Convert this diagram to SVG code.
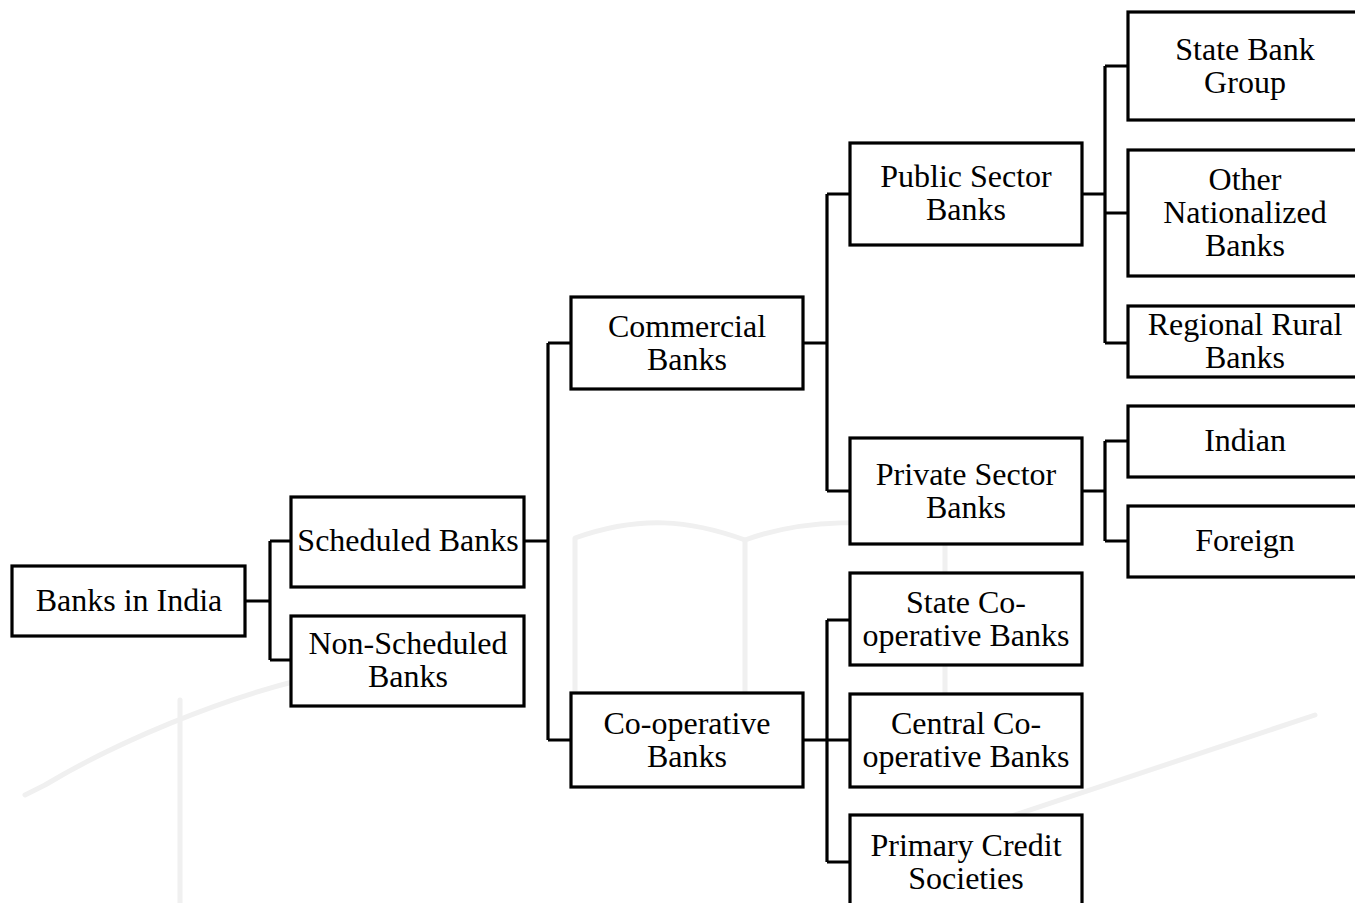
<svg xmlns="http://www.w3.org/2000/svg" width="1355" height="903" viewBox="0 0 1355 903">
<style>
.box{fill:#fff;stroke:#000;stroke-width:3.2}
.c{fill:none;stroke:#000;stroke-width:3.2}
.wm{fill:none;stroke:#f0f0f0;stroke-width:5;stroke-linecap:round;stroke-linejoin:round}
.t{font-family:'Liberation Serif','DejaVu Serif',serif;font-size:32px;fill:#000;text-anchor:middle}
</style>
<rect width="1355" height="903" fill="#fff"/>
<g id="watermark">
<path class="wm" d="M25,795 L45,785 C120,740 220,700 300,680"/>
<path class="wm" d="M1000,820 L1315,715"/>
<path class="wm" d="M575,770 V538 C640,515 690,520 745,540 C800,520 880,515 945,538 V700"/>
<path class="wm" d="M745,540 V770"/>
<path class="wm" d="M180,700 L180,903"/>
</g>
<g id="connectors">
<path class="c" d="M245,601 H270 M270,541 V660 M270,541 H291 M270,660 H291"/>
<path class="c" d="M524,541 H548 M548,343 V740 M548,343 H571 M548,740 H571"/>
<path class="c" d="M803,343 H827 M827,194 V491 M827,194 H850 M827,491 H850"/>
<path class="c" d="M803,740 H827 M827,620 V862 M827,620 H850 M827,740 H850 M827,862 H850"/>
<path class="c" d="M1082,194 H1105 M1105,66 V343 M1105,66 H1128 M1105,213 H1128 M1105,343 H1128"/>
<path class="c" d="M1082,491 H1105 M1105,441 V541 M1105,441 H1128 M1105,541 H1128"/>
</g>
<g id="n-banks-in-india"><rect class="box" x="12" y="566" width="233" height="70"/><text class="t" x="129" y="611">Banks in India</text></g>
<g id="n-scheduled"><rect class="box" x="291" y="497" width="233" height="90"/><text class="t" x="408" y="551">Scheduled Banks</text></g>
<g id="n-non-scheduled"><rect class="box" x="291" y="616" width="233" height="90"/><text class="t" x="408" y="654">Non-Scheduled</text><text class="t" x="408" y="687">Banks</text></g>
<g id="n-commercial"><rect class="box" x="571" y="297" width="232" height="92"/><text class="t" x="687" y="337">Commercial</text><text class="t" x="687" y="370">Banks</text></g>
<g id="n-cooperative"><rect class="box" x="571" y="693" width="232" height="94"/><text class="t" x="687" y="734">Co-operative</text><text class="t" x="687" y="767">Banks</text></g>
<g id="n-public"><rect class="box" x="850" y="143" width="232" height="102"/><text class="t" x="966" y="187">Public Sector</text><text class="t" x="966" y="220">Banks</text></g>
<g id="n-private"><rect class="box" x="850" y="438" width="232" height="106"/><text class="t" x="966" y="485">Private Sector</text><text class="t" x="966" y="518">Banks</text></g>
<g id="n-state-coop"><rect class="box" x="850" y="573" width="232" height="92"/><text class="t" x="966" y="613">State Co-</text><text class="t" x="966" y="646">operative Banks</text></g>
<g id="n-central-coop"><rect class="box" x="850" y="694" width="232" height="93"/><text class="t" x="966" y="734">Central Co-</text><text class="t" x="966" y="767">operative Banks</text></g>
<g id="n-primary"><rect class="box" x="850" y="815" width="232" height="100"/><text class="t" x="966" y="856">Primary Credit</text><text class="t" x="966" y="889">Societies</text></g>
<g id="n-sbg"><rect class="box" x="1128" y="12" width="234" height="108"/><text class="t" x="1245" y="60">State Bank</text><text class="t" x="1245" y="93">Group</text></g>
<g id="n-other"><rect class="box" x="1128" y="150" width="234" height="126"/><text class="t" x="1245" y="190">Other</text><text class="t" x="1245" y="223">Nationalized</text><text class="t" x="1245" y="256">Banks</text></g>
<g id="n-rrb"><rect class="box" x="1128" y="306" width="234" height="71"/><text class="t" x="1245" y="335">Regional Rural</text><text class="t" x="1245" y="368">Banks</text></g>
<g id="n-indian"><rect class="box" x="1128" y="406" width="234" height="71"/><text class="t" x="1245" y="451">Indian</text></g>
<g id="n-foreign"><rect class="box" x="1128" y="506" width="234" height="71"/><text class="t" x="1245" y="551">Foreign</text></g>
</svg>
